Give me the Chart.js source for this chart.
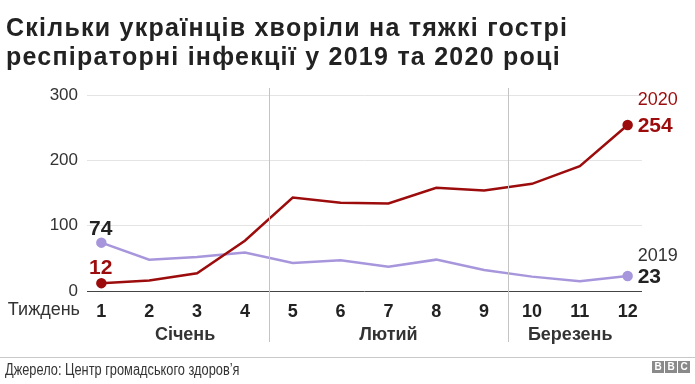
<!DOCTYPE html>
<html>
<head>
<meta charset="utf-8">
<script src="https://cdn.jsdelivr.net/npm/chart.js@4"></script>
<style>
  html, body { margin: 0; padding: 0; background: #fff; }
  #wrap { position: relative; width: 695px; height: 384px; overflow: hidden; font-family: "Liberation Sans", Arial, sans-serif; }
  #title { position: absolute; left: 6px; top: 13px; font-size: 25px; letter-spacing: 1.25px; font-weight: bold; line-height: 29px; color: #222; white-space: nowrap; }
  #chart { position: absolute; left: 0; top: 0; }
  #source { position: absolute; left: 5px; top: 361px; font-size: 16px; color: #333; white-space: nowrap; transform: scaleX(0.8); transform-origin: left top; }
  #rule { position: absolute; left: 0; top: 357px; width: 695px; height: 1px; background: #c8c8c8; }
  #bbc { position: absolute; left: 652px; top: 361px; display: flex; gap: 1px; }
  #bbc span { width: 12px; height: 12px; background: #8a8a8a; color: #fff; font-size: 10px; font-weight: bold; line-height: 12px; text-align: center; }
</style>
</head>
<body>
<div id="wrap">
  <canvas id="chart" width="695" height="384"></canvas>
  <div id="title">Скільки українців хворіли на тяжкі гострі<br>респіраторні інфекції у 2019 та 2020 році</div>
  <div id="rule"></div>
  <div id="source">Джерело: Центр громадського здоров’я</div>
  <div id="bbc"><span>B</span><span>B</span><span>C</span></div>
</div>
<script>
const weeks = [1, 2, 3, 4, 5, 6, 7, 8, 9, 10, 11, 12];
const cases2020 = [12, 16, 27, 77, 143, 135, 134, 158, 154, 164, 191, 254];
const cases2019 = [74, 48, 52, 59, 43, 47, 37, 48, 32, 22, 15, 23];
const yTicks = [0, 100, 200, 300];
const months = ["Січень", "Лютий", "Березень"];
const monthLabelWeek = [2.75, 7, 10.8];
const monthBreaks = [4.5, 9.5]; // between weeks 4/5 and 9/10

const red = "#9c0c0c";
const purple = "#a796dc";

// vertical month separators, month names, axis caption and end labels
const extras = {
    id: "extras",
    afterDraw(chart) {
        const ctx = chart.ctx;
        const x = chart.scales.x;
        const y = chart.scales.y;
        ctx.save();

        ctx.strokeStyle = "#c4c4c4";
        ctx.lineWidth = 1;
        monthBreaks.forEach((w) => {
            const px = Math.round(x.getPixelForValue(w)) + 0.5;
            ctx.beginPath();
            ctx.moveTo(px, 88);
            ctx.lineTo(px, 342);
            ctx.stroke();
        });

        ctx.fillStyle = "#333";
        ctx.font = "bold 18px 'Liberation Sans', Arial, sans-serif";
        ctx.textAlign = "center";
        ctx.textBaseline = "middle";
        months.forEach((m, i) => {
            ctx.fillText(m, x.getPixelForValue(monthLabelWeek[i]), 335);
        });

        ctx.font = "18px 'Liberation Sans', Arial, sans-serif";
        ctx.textAlign = "right";
        ctx.fillText("Тиждень", 80, 310);

        // start labels
        const first = 0, last = weeks.length - 1;
        ctx.textAlign = "left";
        ctx.textBaseline = "alphabetic";
        ctx.font = "bold 21px 'Liberation Sans', Arial, sans-serif";
        ctx.fillStyle = "#222";
        ctx.fillText(cases2019[first], 89, y.getPixelForValue(cases2019[first]) - 8);
        ctx.fillStyle = red;
        ctx.fillText(cases2020[first], 89, y.getPixelForValue(cases2020[first]) - 9);

        // end labels
        const ex = x.getPixelForValue(weeks[last]) + 10;
        ctx.fillStyle = red;
        ctx.fillText(cases2020[last], ex, y.getPixelForValue(cases2020[last]) + 7);
        ctx.fillStyle = "#222";
        ctx.fillText(cases2019[last], ex, y.getPixelForValue(cases2019[last]) + 7);

        ctx.font = "18px 'Liberation Sans', Arial, sans-serif";
        ctx.fillStyle = red;
        ctx.fillText("2020", ex, y.getPixelForValue(cases2020[last]) - 20);
        ctx.fillStyle = "#333";
        ctx.fillText("2019", ex, y.getPixelForValue(cases2019[last]) - 15);

        ctx.restore();
    },
};

new Chart(document.getElementById("chart"), {
    type: "line",
    data: {
        datasets: [
            {
                label: "2020",
                data: weeks.map((w, i) => ({ x: w, y: cases2020[i] })),
                borderColor: red,
                backgroundColor: red,
                borderWidth: 2.5,
                pointRadius: weeks.map((w, i) => (i === 0 || i === weeks.length - 1 ? 4 : 0)),
                tension: 0,
            },
            {
                label: "2019",
                data: weeks.map((w, i) => ({ x: w, y: cases2019[i] })),
                borderColor: purple,
                backgroundColor: purple,
                borderWidth: 2.5,
                pointRadius: weeks.map((w, i) => (i === 0 || i === weeks.length - 1 ? 4 : 0)),
                tension: 0,
            },
        ],
    },
    options: {
        responsive: false,
        animation: false,
        layout: { padding: { left: 0, right: 53, top: 95, bottom: 0 } },
        plugins: {
            legend: { display: false },
            tooltip: { enabled: false },
        },
        scales: {
            x: {
                type: "linear",
                min: 0.7,
                max: 12.3,
                afterBuildTicks: (s) => { s.ticks = weeks.map((w) => ({ value: w })); },
                afterFit: (s) => { s.height = 93; },
                grid: { display: false, drawTicks: false },
                border: { display: false },
                ticks: {
                    color: "#222",
                    padding: 10,
                    font: { family: "'Liberation Sans', Arial, sans-serif", size: 18, weight: "bold" },
                },
            },
            y: {
                min: 0,
                max: 300,
                afterBuildTicks: (s) => { s.ticks = yTicks.map((v) => ({ value: v })); },
                afterFit: (s) => { s.width = 87; },
                grid: {
                    color: (c) => (c.tick.value === 0 ? "#444" : "#e4e4e4"),
                    drawTicks: false,
                },
                border: { display: false },
                ticks: {
                    color: "#333",
                    padding: 9,
                    font: { family: "'Liberation Sans', Arial, sans-serif", size: 17 },
                },
            },
        },
    },
    plugins: [extras],
});
</script>
</body>
</html>
